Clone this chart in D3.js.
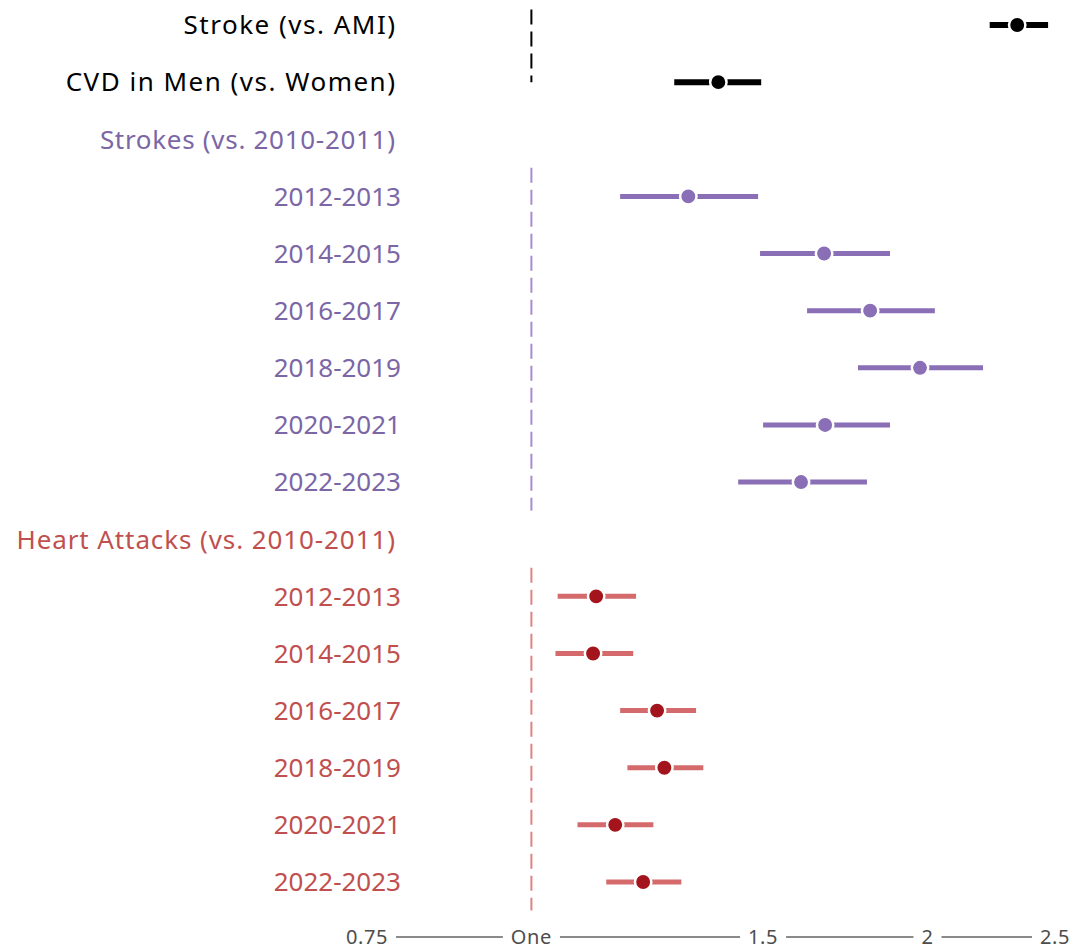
<!DOCTYPE html>
<html>
<head>
<meta charset="utf-8">
<script src="https://cdn.jsdelivr.net/npm/d3@7"></script>
<style>
  html, body { margin: 0; padding: 0; background: #fff; }
  svg { display: block; font-family: "Noto Sans", "Open Sans", sans-serif; }
</style>
</head>
<body>
<svg id="chart" width="1073" height="949"></svg>
<script>
// ---- data ----
const rowLabels = [
  "Stroke (vs. AMI)", "CVD in Men (vs. Women)", "Strokes (vs. 2010-2011)",
  "2012-2013", "2014-2015", "2016-2017", "2018-2019", "2020-2021", "2022-2023",
  "Heart Attacks (vs. 2010-2011)",
  "2012-2013", "2014-2015", "2016-2017", "2018-2019", "2020-2021", "2022-2023"
];
const rowGroups = [
  "overall", "overall", "strokeHeader",
  "stroke", "stroke", "stroke", "stroke", "stroke", "stroke",
  "heartHeader",
  "heart", "heart", "heart", "heart", "heart", "heart"
];
// estimates (null = header row without estimate)
const estimates = [2.34, 1.387, null, 1.316, 1.669, 1.809, 1.974, 1.672, 1.603, null, 1.120, 1.114, 1.246, 1.262, 1.158, 1.216];
const lowerCI   = [2.23, 1.284, null, 1.168, 1.492, 1.620, 1.771, 1.500, 1.436, null, 1.047, 1.043, 1.168, 1.183, 1.084, 1.140];
const upperCI   = [2.47, 1.495, null, 1.487, 1.873, 2.026, 2.204, 1.873, 1.799, null, 1.201, 1.195, 1.334, 1.351, 1.238, 1.300];
const tickValues = [0.75, 1, 1.5, 2, 2.5];
const tickLabels = ["0.75", "One", "1.5", "2", "2.5"];

// ---- styles ----
const textColor = { overall: "#000000", strokeHeader: "#7b66a6", stroke: "#7b66a6", heartHeader: "#c0504f", heart: "#c0504f" };
const letterSpacing = { overall: 1.5, strokeHeader: 0.7, heartHeader: 0.9, stroke: 0, heart: 0 };
const barColor  = { overall: "#000000", stroke: "#8a6fb7", heart: "#d46a6b" };
const dotColor  = { overall: "#000000", stroke: "#8a6fb7", heart: "#a3141c" };

const svg = d3.select("#chart");
const x = d3.scaleLog().domain([0.75, 2.5]).range([367, 1055]);
const y = d3.scalePoint().domain(d3.range(rowLabels.length)).range([25, 882]);
const step = y.step();

// reference dashed lines
const refLines = [
  { g: "overall", y1: y(0) - 0.27 * step, y2: y(1), color: "#000000" },
  { g: "stroke",  y1: y(3) - 0.5 * step,  y2: y(8) + 0.5 * step, color: "#a98bd0" },
  { g: "heart",   y1: y(10) - 0.5 * step, y2: y(15) + 0.5 * step, color: "#dd8385" }
];
svg.append("g").selectAll("line").data(refLines).join("line")
  .attr("x1", x(1)).attr("x2", x(1))
  .attr("y1", d => d.y1).attr("y2", d => d.y2)
  .attr("stroke", d => d.color).attr("stroke-width", 2)
  .attr("stroke-dasharray", "15,7");

// row labels
const isHeader = g => g === "overall" || g.endsWith("Header");
svg.append("g").selectAll("text").data(rowLabels).join("text")
  .attr("x", (d, i) => isHeader(rowGroups[i]) ? 395 + letterSpacing[rowGroups[i]] : 401)
  .attr("y", (d, i) => y(i))
  .attr("dy", "0.36em")
  .attr("text-anchor", "end")
  .attr("font-size", 26)
  .attr("letter-spacing", (d, i) => letterSpacing[rowGroups[i]])
  .attr("fill", (d, i) => textColor[rowGroups[i]])
  .text(d => d);

// error bars and points
const rows = d3.range(rowLabels.length).filter(i => estimates[i] !== null)
  .map(i => ({ i, g: rowGroups[i], est: estimates[i], lo: lowerCI[i], hi: upperCI[i] }));

svg.append("g").selectAll("line").data(rows).join("line")
  .attr("x1", d => x(d.lo)).attr("x2", d => x(d.hi))
  .attr("y1", d => y(d.i)).attr("y2", d => y(d.i))
  .attr("stroke", d => barColor[d.g])
  .attr("stroke-width", d => d.g === "overall" ? 6 : 5);

svg.append("g").selectAll("circle").data(rows).join("circle")
  .attr("cx", d => x(d.est)).attr("cy", d => y(d.i))
  .attr("r", 8.2)
  .attr("fill", d => dotColor[d.g])
  .attr("stroke", "#fff").attr("stroke-width", 2.5);

// x axis: line broken by labels
const axisY = 937;
const axisG = svg.append("g");
axisG.append("line")
  .attr("x1", x(0.75)).attr("x2", x(2.5))
  .attr("y1", axisY).attr("y2", axisY)
  .attr("stroke", "#8a8a8a").attr("stroke-width", 2);
const labG = axisG.selectAll("g.tick").data(tickValues).join("g").attr("class", "tick");
const texts = labG.append("text")
  .attr("x", d => x(d)).attr("y", axisY)
  .attr("dy", "0.34em")
  .attr("text-anchor", "middle")
  .attr("font-size", 20)
  .attr("letter-spacing", 0.6)
  .attr("fill", "#4d4d4d")
  .text((d, i) => tickLabels[i]);
texts.each(function () {
  const bb = this.getBBox();
  d3.select(this.parentNode).insert("rect", "text")
    .attr("x", bb.x - 8).attr("width", bb.width + 16)
    .attr("y", axisY - 4).attr("height", 8)
    .attr("fill", "#fff");
});
</script>
</body>
</html>
